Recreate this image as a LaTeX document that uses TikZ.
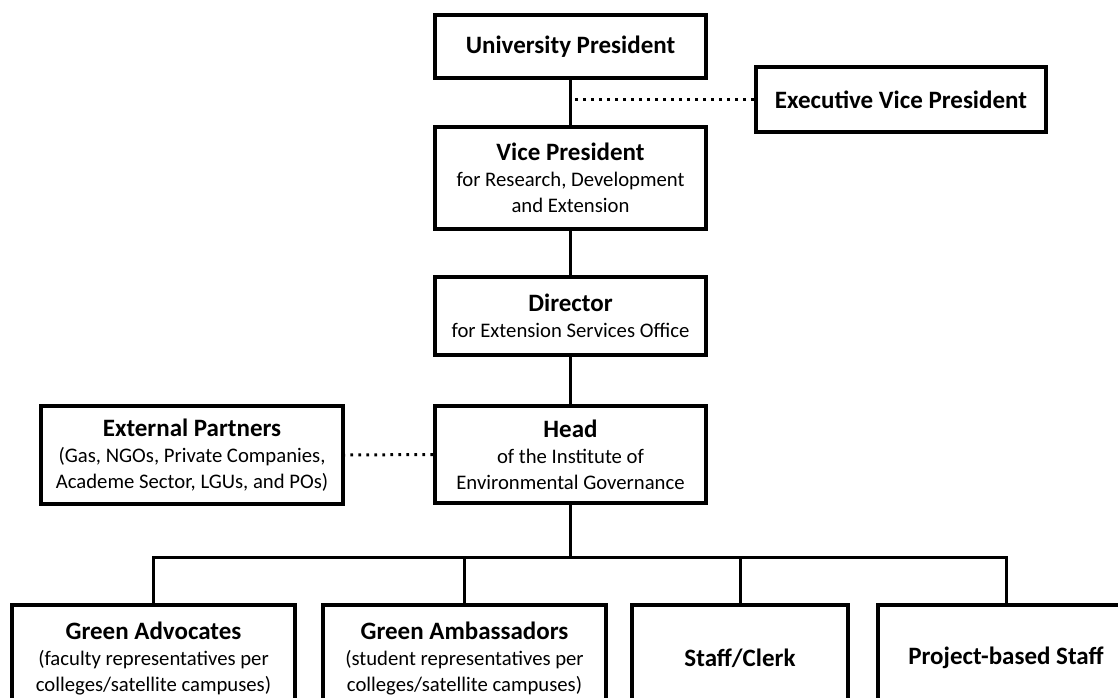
\documentclass[tikz,border=0pt]{standalone}
\usepackage{fontspec}
\setmainfont{Carlito}
\newcommand{\unittitle}[1]{{\fontsize{25}{26}\selectfont\bfseries #1}}
\begin{document}
\begin{tikzpicture}[x=1pt,y=-1pt,
    unit/.style={draw, line width=4pt, align=center, inner sep=0pt,
      minimum width=271pt, font=\fontsize{20.7}{26}\selectfont},
    link/.style={line width=3pt},
    dotlink/.style={line width=3pt, dash pattern=on 2.6pt off 5.4pt}]
            \useasboundingbox (0,0) rectangle (1118,698);
            \clip (0,0) rectangle (1118,698);
            \node[unit, minimum height=63pt] at (570.5,46.5) (up) {\unittitle{University President}};
            \node[unit, minimum width=290pt, minimum height=65pt] at (901,99.5) (evp) {\unittitle{Executive Vice President}};
            \node[unit, minimum height=102pt] at (570.5,178) (vp) {\unittitle{Vice President}\\for Research, Development\\and Extension};
            \node[unit, minimum height=78pt] at (570.5,316) (dir) {\unittitle{Director}\\for Extension Services Office};
            \node[unit, minimum height=97pt] at (570.5,454.5) (head) {\unittitle{Head}\\of the Institute of\\Environmental Governance};
            \node[unit, minimum width=302pt, minimum height=98pt] at (192,455) (ext) {\unittitle{External Partners}\\(Gas, NGOs, Private Companies,\\Academe Sector, LGUs, and POs)};
            \node[unit, minimum width=283pt, minimum height=106pt] at (153.5,658) (ga) {\unittitle{Green Advocates}\\(faculty representatives per\\colleges/satellite campuses)};
            \node[unit, minimum width=283pt, minimum height=106pt] at (464.5,658) (gamb) {\unittitle{Green Ambassadors}\\(student representatives per\\colleges/satellite campuses)};
            \node[unit, minimum width=216pt, minimum height=106pt] at (740,658) (staff) {\unittitle{Staff/Clerk}};
            \node[unit, minimum width=256pt, minimum height=106pt] at (1006,658) (proj) {\unittitle{Project-based Staff}};
            \coordinate (bus) at (570.5,557);
            \draw[link] (up) -- (vp);
            \draw[link] (vp) -- (dir);
            \draw[link] (dir) -- (head);
            \draw[dotlink] (evp.west) -- (evp.west -| up.south);
            \draw[dotlink] (head.west) -- (ext.east);
            \draw[link] (head) -- (bus);
            \draw[link] (ga.north) -- (ga.north |- bus) -- (proj.north |- bus) -- (proj.north);
            \draw[link] (gamb.north) -- (gamb.north |- bus);
            \draw[link] (staff.north) -- (staff.north |- bus);
        \end{tikzpicture}
\end{document}
